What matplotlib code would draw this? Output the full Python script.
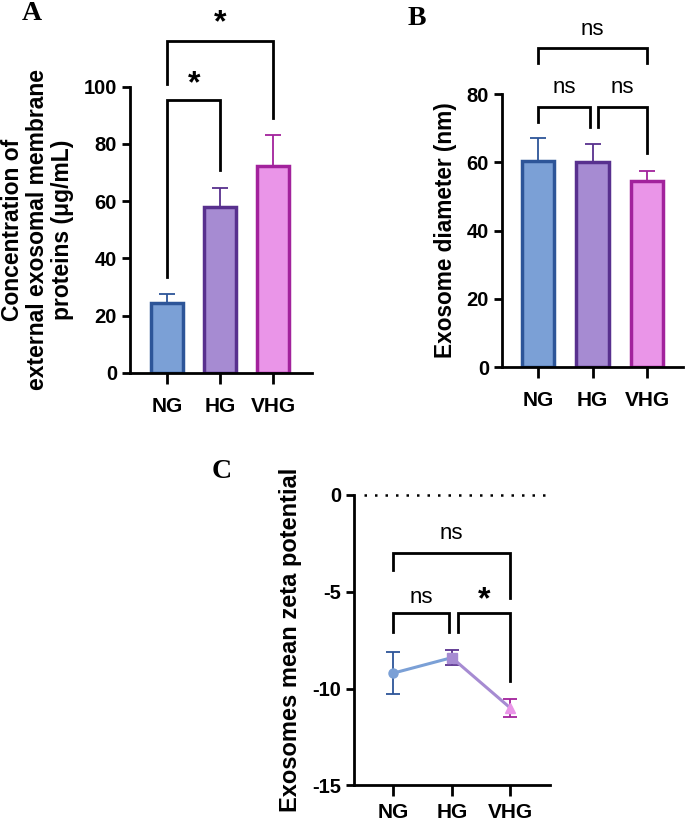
import numpy as np
import matplotlib
matplotlib.use('Agg')
import matplotlib.pyplot as plt

plt.rcParams['font.family'] = ['Liberation Sans', 'DejaVu Sans']

categories = ['NG', 'HG', 'VHG']
protein_mean = [24.3, 57.8, 72.2]
protein_err = [3.2, 6.9, 10.9]
diameter_mean = [60.4, 60.0, 54.6]
diameter_err = [6.6, 5.4, 3.0]
zeta_mean = [-9.2, -8.4, -11.0]
zeta_err = [1.1, 0.4, 0.45]

fills = ['#7BA0D6', '#A68BD2', '#EA95E8']
edges = ['#2D5598', '#58308E', '#A2229C']

LW = 2.0


def style_axes(ax, xpad=9):
    for s in ['top', 'right']:
        ax.spines[s].set_visible(False)
    for s in ['left', 'bottom']:
        ax.spines[s].set_linewidth(LW)
    ax.tick_params(axis='both', width=LW)
    ax.tick_params(axis='y', length=6, labelsize=14.5)
    ax.tick_params(axis='x', length=8, pad=xpad, labelsize=15)
    for lab in ax.get_xticklabels() + ax.get_yticklabels():
        lab.set_fontweight('bold')


def bracket(ax, x1, x2, ytop, yl, yr, text, ty, star=False):
    ax.plot([x1, x1, x2, x2], [yl, ytop, ytop, yr], color='black', lw=LW,
            clip_on=False, solid_joinstyle='miter')
    if star:
        ax.text((x1 + x2) / 2, ty, '*', ha='center', va='center', fontsize=23,
                fontweight='bold')
    else:
        ax.text((x1 + x2) / 2, ty, text, ha='center', va='center', fontsize=16)


def bar_panel(ax, means, errs):
    x = np.arange(len(categories))
    for i in range(len(categories)):
        ax.bar(x[i], means[i], width=0.6, color=fills[i], edgecolor=edges[i],
               linewidth=2.5, zorder=2)
        ax.errorbar(x[i], means[i], yerr=[[0], [errs[i]]], color=edges[i],
                    capsize=6, elinewidth=1.3, capthick=1.3, zorder=1)
    ax.set_xticks(x)
    ax.set_xticklabels(categories)


fig = plt.figure(figsize=(6.85, 8.25), dpi=100)

# --- A ---
axA = fig.add_axes([0.190, 0.548, 0.266, 0.347])
bar_panel(axA, protein_mean, protein_err)
axA.set_xlim(-0.70, 2.74)
axA.set_ylim(0, 100)
axA.set_yticks([0, 20, 40, 60, 80, 100])
axA.set_ylabel('Concentration of\nexternal exosomal membrane\nproteins (μg/mL)',
               fontsize=16.5, fontweight='bold', labelpad=7, linespacing=1.1)
style_axes(axA)
bracket(axA, 0, 1, 95.5, 33.5, 71, '*', 101, star=True)
bracket(axA, 0, 2, 116, 101, 89, '*', 122, star=True)
fig.text(0.032, 0.984, 'A', fontsize=20, fontweight='bold',
         family='Liberation Serif', va='center')

# --- B ---
axB = fig.add_axes([0.733, 0.555, 0.264, 0.331])
bar_panel(axB, diameter_mean, diameter_err)
axB.set_xlim(-0.66, 2.66)
axB.set_ylim(0, 80)
axB.set_yticks([0, 20, 40, 60, 80])
axB.set_ylabel('Exosome diameter (nm)', fontsize=16.3, fontweight='bold',
               labelpad=7)
style_axes(axB)
bracket(axB, 0, 0.95, 76.2, 71.8, 70.4, 'ns', 82)
bracket(axB, 1.1, 2, 76.2, 70.4, 62.7, 'ns', 82)
bracket(axB, 0, 2, 93.5, 89, 89, 'ns', 99)
fig.text(0.595, 0.977, 'B', fontsize=20, fontweight='bold',
         family='Liberation Serif', va='center')

# --- C ---
axC = fig.add_axes([0.517, 0.048, 0.286, 0.352])
x = np.arange(len(categories))
markers = ['o', 's', '^']
axC.plot([-0.5, 2.68], [0, 0], color='black', lw=1.8, ls=(0, (1, 3.2)),
         zorder=0, clip_on=False)
for i in range(len(categories) - 1):
    axC.plot(x[i:i + 2], zeta_mean[i:i + 2], color=fills[i], lw=2.2, zorder=2)
for i in range(len(categories)):
    axC.errorbar(x[i], zeta_mean[i], yerr=zeta_err[i], color=edges[i],
                 capsize=5, elinewidth=1.3, capthick=1.3, zorder=1)
    axC.plot(x[i], zeta_mean[i], marker=markers[i], ms=6.5, color=fills[i],
             ls='none', zorder=3)
axC.set_xticks(x)
axC.set_xticklabels(categories)
axC.set_xlim(-0.67, 2.68)
axC.set_ylim(-15, 0)
axC.set_yticks([0, -5, -10, -15])
axC.set_yticklabels(['0', '-5', '-10', '-15'])
axC.set_ylabel('Exosomes mean zeta potential', fontsize=17, fontweight='bold',
               labelpad=7)
style_axes(axC, xpad=5)
bracket(axC, 0, 0.95, -6.1, -7.1, -7.1, 'ns', -5.3)
bracket(axC, 1.1, 2, -6.1, -7.1, -9.6, '*', -5.45, star=True)
bracket(axC, 0, 2, -3.0, -3.85, -5.3, 'ns', -2.0)
fig.text(0.309, 0.428, 'C', fontsize=20, fontweight='bold',
         family='Liberation Serif', va='center')

fig.savefig('out.png', dpi=100)
